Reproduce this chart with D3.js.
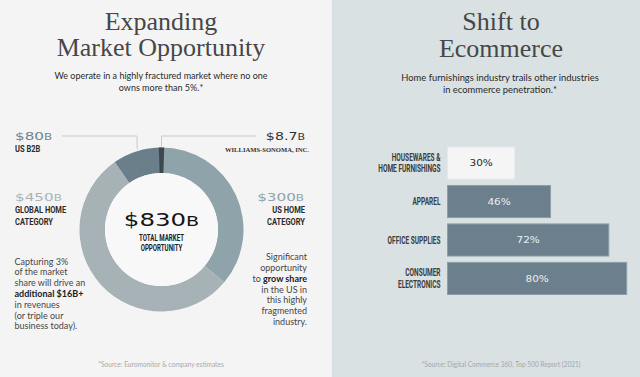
<!DOCTYPE html>
<html>
<head>
<meta charset="utf-8">
<script src="https://cdn.jsdelivr.net/npm/d3@7"></script>
<style>
  html, body { margin: 0; padding: 0; background: #f4f4f4; }
  svg { display: block; }
</style>
</head>
<body>
<div id="chart"></div>
<script>
// market opportunity donut ($B)
const marketNames = ["US HOME CATEGORY", "GLOBAL HOME CATEGORY", "US B2B"];
const marketValues = [300, 450, 80];
const marketColors = ["#8fa3ab", "#a7b2b6", "#6b7f8b"];
const wsValue = 8.7;
const totalMarket = 830;

// ecommerce penetration (%)
const industries = [
  ["HOUSEWARES &", "HOME FURNISHINGS"],
  ["APPAREL"],
  ["OFFICE SUPPLIES"],
  ["CONSUMER", "ELECTRONICS"]
];
const penetration = [30, 46, 72, 80];

const W = 640, H = 377;
const serif = "'Liberation Serif', 'DejaVu Serif', serif";
const sans = "Lato, 'Open Sans', sans-serif";
const narrow = "Roboto, 'DejaVu Sans', sans-serif";
const wideFont = "'DejaVu Sans', sans-serif";
const narrowSx = 0.8;

const svg = d3.select("#chart")
  .append("svg")
  .attr("width", W)
  .attr("height", H);

// backgrounds
svg.append("rect").attr("width", 332).attr("height", H).attr("fill", "#f4f4f4");
svg.append("rect").attr("x", 332).attr("width", W - 332).attr("height", H).attr("fill", "#d9e1e2");
svg.append("line")
  .attr("x1", 331.5).attr("x2", 331.5).attr("y1", 0).attr("y2", H)
  .attr("stroke", "#edf1f2");

// helper for multi-line text (optionally squeezed horizontally)
function lines(g, x, y0, step, rows, opts) {
  const sx = opts.sx || 1;
  const t = g.append("text")
    .attr("transform", `translate(${x},0) scale(${sx},1)`)
    .attr("text-anchor", opts.anchor || "start")
    .attr("font-family", opts.font)
    .attr("font-size", opts.size)
    .attr("font-weight", opts.weight || "normal")
    .attr("fill", opts.color);
  rows.forEach((r, i) => {
    const parts = Array.isArray(r) ? r : [[r, false]];
    parts.forEach((p, j) => {
      const ts = t.append("tspan").text(p[0]);
      if (j === 0) ts.attr("x", 0).attr("y", y0 + i * step);
      if (p[1]) ts.attr("font-weight", "bold").attr("fill", "#222");
    });
  });
  return t;
}

// wide display text, stretched horizontally
function wide(g, x, y, big, small, opts) {
  const t = g.append("text")
    .attr("transform", `translate(${x},${y}) scale(${opts.sx},1)`)
    .attr("text-anchor", opts.anchor || "start")
    .attr("font-family", wideFont)
    .attr("font-size", opts.size)
    .attr("fill", opts.color);
  t.append("tspan").text(big);
  if (small) t.append("tspan").attr("font-size", opts.size * 0.78).text(small);
  return t;
}

// ---------------- left panel ----------------
const left = svg.append("g");
lines(left, 161, 29.5, 26, ["Expanding"],
  { anchor: "middle", font: serif, size: 26, color: "#474747" });
lines(left, 161, 55.5, 26, ["Market Opportunity"],
  { anchor: "middle", font: serif, size: 26, color: "#474747" });
lines(left, 161, 78.5, 12, ["We operate in a highly fractured market where no one", "owns more than 5%.*"],
  { anchor: "middle", font: sans, size: 9, color: "#2a2a2a" });

const cx = 161.5, cy = 229.5, rOut = 82, rIn = 56.5;
const donut = left.append("g").attr("transform", `translate(${cx},${cy})`);

const angle = d3.scaleLinear().domain([0, totalMarket]).range([0, 2 * Math.PI]);
const pie = d3.pie().sort(null).value(d => d)
  .startAngle(0).endAngle(angle(d3.sum(marketValues)));
const arc = d3.arc().innerRadius(rIn).outerRadius(rOut);
const arcs = pie(marketValues);

donut.selectAll("path.seg")
  .data(arcs)
  .join("path")
  .attr("class", "seg")
  .attr("d", arc)
  .attr("fill", (d, i) => marketColors[i]);

// Williams-Sonoma sliver at the top
const wsArc = { startAngle: -angle(wsValue) / 2, endAngle: angle(wsValue) / 2 };
donut.append("path").attr("d", arc(wsArc)).attr("fill", "#3d474e");

donut.append("circle").attr("r", rIn).attr("fill", "#f8f8f8");

// leader lines
const b2b = arcs[2];
const b2bMid = (b2b.startAngle + b2b.endAngle) / 2;
const b2bX = cx + rOut * Math.sin(b2bMid);
const b2bY = cy - rOut * Math.cos(b2bMid);
const wsX = cx + rOut * Math.sin(0);
const wsY = cy - rOut;
const leader = d3.line();
left.append("path")
  .attr("d", leader([[62, 136], [b2bX, 136], [b2bX, b2bY - 2]]))
  .attr("fill", "none").attr("stroke", "#c9c9c9").attr("stroke-width", 1);
left.append("path")
  .attr("d", leader([[wsX, wsY - 1], [wsX, 136], [256, 136]]))
  .attr("fill", "none").attr("stroke", "#c9c9c9").attr("stroke-width", 1);

// value labels
wide(left, 15, 139.5, "$" + marketValues[2], "B", { sx: 1.45, size: 10.5, color: "#6f838f" });
lines(left, 15, 152, 12, ["US B2B"], { font: narrow, size: 9.4, weight: "bold", color: "#2c2c2c", sx: narrowSx });

wide(left, 305, 139.5, "$" + wsValue, "B", { sx: 1.35, size: 10.5, color: "#333", anchor: "end" });
lines(left, 309, 152, 12, ["WILLIAMS-SONOMA, INC."], { anchor: "end", font: serif, size: 6.6, weight: "bold", color: "#333" });

wide(left, 15, 200.5, "$" + marketValues[1], "B", { sx: 1.45, size: 10.5, color: "#a9b4b8" });
lines(left, 15, 213.5, 11.7, ["GLOBAL HOME", "CATEGORY"], { font: narrow, size: 9.4, weight: "bold", color: "#2c2c2c", sx: narrowSx });

wide(left, 304, 200.5, "$" + marketValues[0], "B", { sx: 1.45, size: 10.5, color: "#8fa3ab", anchor: "end" });
lines(left, 305, 213.5, 11.7, ["US HOME", "CATEGORY"], { anchor: "end", font: narrow, size: 9.4, weight: "bold", color: "#2c2c2c", sx: narrowSx });

// center total
wide(left, cx, 226, "$" + totalMarket, "B", { sx: 1.4, size: 17.5, color: "#151515", anchor: "middle" });
lines(left, cx, 241, 10.5, ["TOTAL MARKET", "OPPORTUNITY"], { anchor: "middle", font: narrow, size: 8.2, weight: "bold", color: "#222", sx: 0.75 });

// body notes
lines(left, 14.5, 264.5, 10.8, [
  "Capturing 3%",
  "of the market",
  "share will drive an",
  [["additional $16B+", true]],
  "in revenues",
  "(or triple our",
  "business today)."
], { font: sans, size: 9, color: "#474747" });

lines(left, 307, 260, 10.85, [
  "Significant",
  "opportunity",
  [["to ", false], ["grow share", true]],
  "in the US in",
  "this highly",
  "fragmented",
  "industry."
], { anchor: "end", font: sans, size: 9, color: "#474747" });

lines(left, 161, 367, 8, ["*Source: Euromonitor & company estimates"],
  { anchor: "middle", font: sans, size: 6.6, color: "#a9a9a9" });

// ---------------- right panel ----------------
const right = svg.append("g");
lines(right, 501, 29.5, 27.5, ["Shift to"],
  { anchor: "middle", font: serif, size: 26, color: "#474747" });
lines(right, 501, 57, 27.5, ["Ecommerce"],
  { anchor: "middle", font: serif, size: 26, color: "#474747" });
lines(right, 500, 80.5, 12, ["Home furnishings industry trails other industries", "in ecommerce penetration.*"],
  { anchor: "middle", font: sans, size: 9.4, color: "#2a2a2a" });

const x = d3.scaleLinear().domain([0, 100]).range([447.5, 671.5]);
const y = d3.scaleBand()
  .domain(d3.range(penetration.length))
  .range([147, 294.5])
  .paddingInner(0.165);

right.selectAll("rect.bar")
  .data(penetration)
  .join("rect")
  .attr("class", "bar")
  .attr("x", x(0))
  .attr("y", (d, i) => y(i))
  .attr("width", d => x(d) - x(0))
  .attr("height", y.bandwidth())
  .attr("fill", (d, i) => i === 0 ? "#f5f5f5" : "#6b808c")
  .attr("stroke", (d, i) => i === 0 ? "#e4eaeb" : "#8c9fa9")
  .attr("stroke-width", 1);

penetration.forEach((d, i) => {
  wide(right, (x(0) + x(d)) / 2, y(i) + y.bandwidth() / 2 + 3.2, d + "%", null,
    { sx: 1.22, size: 8.6, color: i === 0 ? "#2a2a2a" : "#e9eef0", anchor: "middle" });
  const rows = industries[i];
  const mid = y(i) + y.bandwidth() / 2;
  lines(right, 440.5, mid + 3.6 - (rows.length - 1) * 5.8, 11.6, rows,
    { anchor: "end", font: narrow, size: 10.2, weight: "bold", color: "#3d3d3d", sx: 0.64 });
});

lines(right, 501, 367, 8, ["*Source: Digital Commerce 360, Top 500 Report (2021)"],
  { anchor: "middle", font: sans, size: 6.6, color: "#a3a9ab" });
</script>
</body>
</html>
